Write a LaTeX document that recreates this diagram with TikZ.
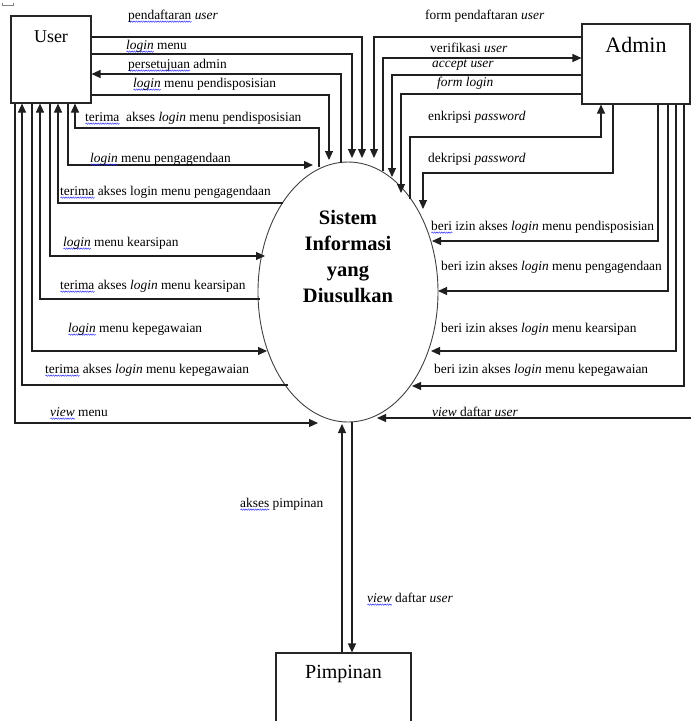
\documentclass[tikz,border=0pt]{standalone}
\usepackage{fontspec}
\setmainfont{Liberation Serif}
\usetikzlibrary{shapes.geometric,arrows.meta,decorations.pathmorphing}
% wavy blue underline used under some words
\newsavebox\sqbox
\newdimen\sqwd
\newcommand\squig[1]{\leavevmode\sbox\sqbox{#1}\sqwd=\wd\sqbox
  \rlap{\tikz[baseline=0pt]\draw[blue!85, line width=0.45pt, decorate,
    decoration={snake, amplitude=0.7pt, segment length=2.4pt}] (0pt,-2.6pt) -- (\sqwd,-2.6pt);}%
  \usebox\sqbox}
\tikzset{
  flow/.style={line width=1.1pt, draw=black!88},
  arr/.style={flow, -{Triangle[length=9pt,width=8pt]}},
  ent/.style={draw=black!85, line width=1.1pt, rectangle, inner sep=0pt},
  lbl/.style={anchor=base west, inner sep=0pt, font=\fontsize{13.4}{15}\selectfont},
  ttl/.style={anchor=center, inner sep=0pt},
}
\begin{document}
\begin{tikzpicture}[x=1pt,y=-1pt]
\useasboundingbox (0,0) rectangle (691,721);
\draw[black!50, line width=0.6pt] (2,3) -- (2,5) -- (13,5) -- (13,3);

% external entities
\node[ent, minimum width=80pt, minimum height=87pt,
  label={[ttl,yshift=-21pt,font=\fontsize{18}{20}\selectfont]north:User}] (user) at (51,59.5) {};
\node[ent, minimum width=108pt, minimum height=80pt,
  label={[ttl,yshift=-22pt,font=\fontsize{22}{24}\selectfont]north:Admin}] (admin) at (636,64) {};
\node[ent, minimum width=135pt, minimum height=84pt,
  label={[ttl,yshift=-22pt,font=\fontsize{20}{22}\selectfont]north:Pimpinan}] (pimp) at (343.5,695) {};

% the process
\node[draw=black!75, line width=0.9pt, ellipse, minimum width=180pt, minimum height=260pt, inner sep=0pt,
  label={[align=center, yshift=35pt, font=\bfseries\fontsize{20.5}{26}\selectfont]center:Sistem\\Informasi\\yang\\Diusulkan}] (sys) at (348,292) {};

% points where the flows meet the process
\coordinate (sPend) at (362,158);
\coordinate (sLogin) at (352,158);
\coordinate (sSetuju) at (341,163);
\coordinate (sDisp) at (329,160);
\coordinate (sTDisp) at (319,167);
\coordinate (sAgd) at (313,165);
\coordinate (sTAgd) at (283,203);
\coordinate (sArs) at (265,256);
\coordinate (sTArs) at (260,299);
\coordinate (sPeg) at (267,351);
\coordinate (sTPeg) at (288,385);
\coordinate (sView) at (318,423);
\coordinate (sForm) at (374,158);
\coordinate (sVerif) at (383,171);
\coordinate (sAcc) at (392,177);
\coordinate (sFLog) at (401,193);
\coordinate (sEnk) at (410,199);
\coordinate (sDek) at (423,209);
\coordinate (sIDisp) at (432,241);
\coordinate (sIAgd) at (438,291);
\coordinate (sIArs) at (431,351);
\coordinate (sIPeg) at (412,386);
\coordinate (sVDaf) at (377,418);
\coordinate (sVDafIn) at (697,418);
\coordinate (sAkses) at (342,424);
\coordinate (sVPim) at (352,422);

% User <-> process
\draw[arr] (user.east |- 0,37) -| (sPend);
\draw[arr] (user.east |- 0,54) -| (sLogin);
\draw[arr] (sSetuju) |- (user.east |- 0,74);
\draw[arr] (user.east |- 0,95) -| (sDisp);
\draw[arr] (sTDisp) |- (75,128) -- (user.south -| 75,0);
\draw[arr] (user.south -| 68,0) |- (sAgd);
\draw[arr] (sTAgd) -| (user.south -| 58,0);
\draw[arr] (user.south -| 50,0) |- (sArs);
\draw[arr] (sTArs) -| (user.south -| 40,0);
\draw[arr] (user.south -| 32,0) |- (sPeg);
\draw[arr] (sTPeg) -| (user.south -| 22,0);
\draw[arr] (user.south -| 15,0) |- (sView);

% Admin <-> process
\draw[arr] (admin.west |- 0,37) -| (sForm);
\draw[arr] (sVerif) |- (admin.west |- 0,58);
\draw[arr] (admin.west |- 0,75) -| (sAcc);
\draw[arr] (admin.west |- 0,94) -| (sFLog);
\draw[arr] (sEnk) |- (601,137) -- (admin.south -| 601,0);
\draw[arr] (admin.south -| 613,0) |- (423,173) -- (sDek);
\draw[arr] (admin.south -| 658,0) |- (sIDisp);
\draw[arr] (admin.south -| 668,0) |- (sIAgd);
\draw[arr] (admin.south -| 676,0) |- (sIArs);
\draw[arr] (admin.south -| 684,0) |- (sIPeg);
\draw[arr] (sVDafIn) -- (sVDaf);

% Pimpinan <-> process
\draw[arr] (pimp.north -| 342,0) -- (sAkses);
\draw[arr] (sVPim) -- (pimp.north -| 352,0);

% flow labels, User side
\node[lbl] (t1) at (128,19) {\squig{pendaftaran} \textit{user}};
\node[lbl] (t2) at (126,49) {\squig{\textit{login}} menu};
\node[lbl] (t3) at (128,68) {\squig{persetujuan} admin};
\node[lbl] (t4) at (133,87) {\squig{\textit{login}} menu pendisposisian};
\node[lbl] (t5) at (85,121) {\squig{terima} \ akses \textit{login} menu pendisposisian};
\node[lbl] (t6) at (90,162) {\squig{\textit{login}} menu pengagendaan};
\node[lbl] (t7) at (60,195) {\squig{terima} akses login menu pengagendaan};
\node[lbl] (t8) at (63,246) {\squig{\textit{login}} menu kearsipan};
\node[lbl] (t9) at (60,289) {\squig{terima} akses \textit{login} menu kearsipan};
\node[lbl] (t10) at (68,332) {\squig{\textit{login}} menu kepegawaian};
\node[lbl] (t11) at (45,373) {\squig{terima} akses \textit{login} menu kepegawaian};
\node[lbl] (t12) at (50,416) {\squig{\textit{view}} menu};

% flow labels, Admin side
\node[lbl] (a1) at (425,19) {form pendaftaran \textit{user}};
\node[lbl] (a2) at (430,52) {verifikasi \textit{user}};
\node[lbl] (a3) at (432,67) {\textit{accept user}};
\node[lbl] (a4) at (437,86) {\textit{form login}};
\node[lbl] (a5) at (428,120) {enkripsi \textit{password}};
\node[lbl] (a6) at (428,162) {dekripsi \textit{password}};
\node[lbl] (a7) at (431,230) {\squig{beri} izin akses \textit{login} menu pendisposisian};
\node[lbl] (a8) at (441,270) {beri izin akses \textit{login} menu pengagendaan};
\node[lbl] (a9) at (441,332) {beri izin akses \textit{login} menu kearsipan};
\node[lbl] (a10) at (434,373) {beri izin akses \textit{login} menu kepegawaian};
\node[lbl] (a11) at (432,416) {\textit{view} daftar \textit{user}};

% flow labels, Pimpinan side
\node[lbl] (p1) at (240,507) {\squig{akses} pimpinan};
\node[lbl] (p2) at (367,602) {\squig{\textit{view}} daftar \textit{user}};
\end{tikzpicture}
\end{document}
